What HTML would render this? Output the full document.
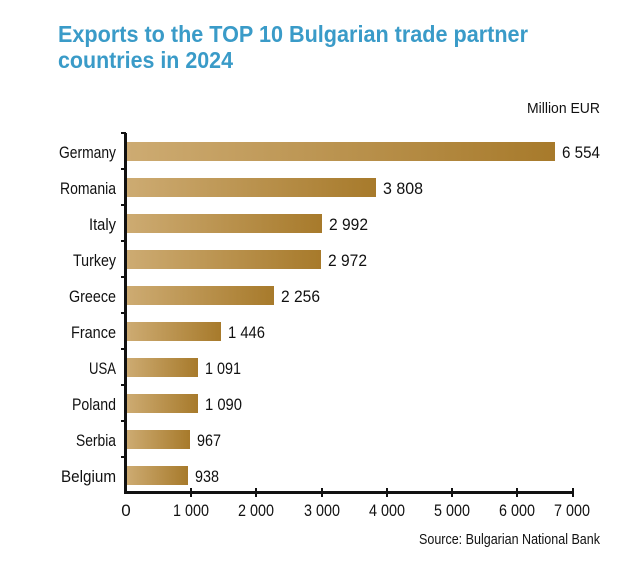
<!DOCTYPE html>
<html><head><meta charset="utf-8"><style>html,body{margin:0;padding:0;background:#fff}svg{display:block}</style></head>
<body>
<svg width="627" height="577" viewBox="0 0 627 577" xmlns="http://www.w3.org/2000/svg" font-family="'Liberation Sans',sans-serif">
<defs><linearGradient id="g" x1="0" x2="1" y1="0" y2="0"><stop offset="0" stop-color="#cdab72"/><stop offset="1" stop-color="#a77a2b"/></linearGradient></defs>
<text x="58" y="42" font-weight="bold" font-size="23" fill="#3a9bc8" textLength="470" lengthAdjust="spacingAndGlyphs">Exports to the TOP 10 Bulgarian trade partner</text>
<text x="58" y="68" font-weight="bold" font-size="23" fill="#3a9bc8" textLength="175" lengthAdjust="spacingAndGlyphs">countries in 2024</text>
<text x="600" y="113" font-size="15" text-anchor="end" fill="#111" textLength="73" lengthAdjust="spacingAndGlyphs">Million EUR</text>
<g fill="url(#g)">
<rect x="127" y="142" width="428" height="19"/>
<rect x="127" y="178" width="249" height="19"/>
<rect x="127" y="214" width="195" height="19"/>
<rect x="127" y="250" width="194" height="19"/>
<rect x="127" y="286" width="147" height="19"/>
<rect x="127" y="322" width="94" height="19"/>
<rect x="127" y="358" width="71" height="19"/>
<rect x="127" y="394" width="71" height="19"/>
<rect x="127" y="430" width="63" height="19"/>
<rect x="127" y="466" width="61" height="19"/>
</g>
<g font-size="17" fill="#111" text-anchor="end" lengthAdjust="spacingAndGlyphs">
<text x="116" y="158" textLength="57" lengthAdjust="spacingAndGlyphs">Germany</text>
<text x="116" y="194" textLength="56" lengthAdjust="spacingAndGlyphs">Romania</text>
<text x="116" y="230" textLength="27" lengthAdjust="spacingAndGlyphs">Italy</text>
<text x="116" y="266" textLength="43" lengthAdjust="spacingAndGlyphs">Turkey</text>
<text x="116" y="302" textLength="47" lengthAdjust="spacingAndGlyphs">Greece</text>
<text x="116" y="338" textLength="45" lengthAdjust="spacingAndGlyphs">France</text>
<text x="116" y="374" textLength="27" lengthAdjust="spacingAndGlyphs">USA</text>
<text x="116" y="410" textLength="44" lengthAdjust="spacingAndGlyphs">Poland</text>
<text x="116" y="446" textLength="40" lengthAdjust="spacingAndGlyphs">Serbia</text>
<text x="116" y="482" textLength="55" lengthAdjust="spacingAndGlyphs">Belgium</text>
</g>
<g font-size="17" fill="#111">
<text x="562" y="158" textLength="38" lengthAdjust="spacingAndGlyphs">6 554</text>
<text x="383" y="194" textLength="40" lengthAdjust="spacingAndGlyphs">3 808</text>
<text x="329" y="230" textLength="39" lengthAdjust="spacingAndGlyphs">2 992</text>
<text x="328" y="266" textLength="39" lengthAdjust="spacingAndGlyphs">2 972</text>
<text x="281" y="302" textLength="39" lengthAdjust="spacingAndGlyphs">2 256</text>
<text x="228" y="338" textLength="37" lengthAdjust="spacingAndGlyphs">1 446</text>
<text x="205" y="374" textLength="36" lengthAdjust="spacingAndGlyphs">1 091</text>
<text x="205" y="410" textLength="37" lengthAdjust="spacingAndGlyphs">1 090</text>
<text x="197" y="446" textLength="24" lengthAdjust="spacingAndGlyphs">967</text>
<text x="195" y="482" textLength="24" lengthAdjust="spacingAndGlyphs">938</text>
</g>
<g stroke="#111" stroke-width="3" fill="none">
<line x1="125.5" y1="133" x2="125.5" y2="494"/>
<line x1="124" y1="492.5" x2="574" y2="492.5"/>
</g>
<g stroke="#111" stroke-width="2">
<line x1="121" y1="133" x2="126" y2="133"/>
<line x1="121" y1="169" x2="126" y2="169"/><line x1="121" y1="205" x2="126" y2="205"/><line x1="121" y1="241" x2="126" y2="241"/><line x1="121" y1="277" x2="126" y2="277"/><line x1="121" y1="313" x2="126" y2="313"/><line x1="121" y1="349" x2="126" y2="349"/><line x1="121" y1="385" x2="126" y2="385"/><line x1="121" y1="421" x2="126" y2="421"/><line x1="121" y1="457" x2="126" y2="457"/>
<line x1="191" y1="488" x2="191" y2="497"/><line x1="256" y1="488" x2="256" y2="497"/><line x1="322" y1="488" x2="322" y2="497"/><line x1="387" y1="488" x2="387" y2="497"/><line x1="452" y1="488" x2="452" y2="497"/><line x1="517" y1="488" x2="517" y2="497"/><line x1="573" y1="488" x2="573" y2="497"/>
</g>
<g font-size="17" fill="#111" text-anchor="middle">
<text x="126" y="516">0</text>
<text x="191" y="516" textLength="36" lengthAdjust="spacingAndGlyphs">1 000</text>
<text x="256" y="516" textLength="36" lengthAdjust="spacingAndGlyphs">2 000</text>
<text x="322" y="516" textLength="36" lengthAdjust="spacingAndGlyphs">3 000</text>
<text x="387" y="516" textLength="36" lengthAdjust="spacingAndGlyphs">4 000</text>
<text x="452" y="516" textLength="36" lengthAdjust="spacingAndGlyphs">5 000</text>
<text x="517" y="516" textLength="36" lengthAdjust="spacingAndGlyphs">6 000</text>
<text x="572" y="516" textLength="36" lengthAdjust="spacingAndGlyphs">7 000</text>
</g>
<text x="600" y="544" font-size="15" text-anchor="end" fill="#111" textLength="181" lengthAdjust="spacingAndGlyphs">Source: Bulgarian National Bank</text>
</svg>
</body></html>
